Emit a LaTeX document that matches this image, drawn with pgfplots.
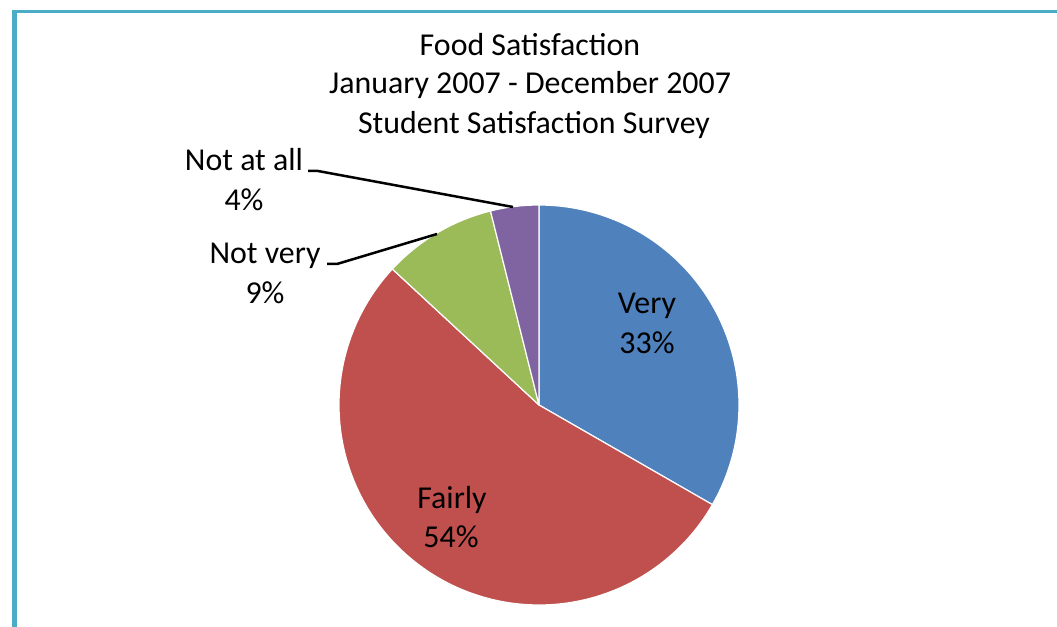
\documentclass[border=0pt]{standalone}
\usepackage{pgfplots}
\usepackage{pgfplotstable}
\usepackage{fontspec}
\setmainfont{Carlito}
\pgfplotsset{compat=1.18}

\definecolor{cVery}{HTML}{4F81BD}
\definecolor{cFairly}{HTML}{C0504D}
\definecolor{cNotvery}{HTML}{9BBB59}
\definecolor{cNotatall}{HTML}{8064A2}
\definecolor{cFrame}{HTML}{4BACC6}

\tikzset{lbl/.style={anchor=base, inner sep=0pt, font=\fontsize{32}{40}\selectfont}}

% share of answers, in percent
\pgfplotstableread{
name     value
Very     33.3
Fairly   53.6
Notvery  9.2
Notatall 3.9
}\piedata

\begin{document}
\begin{tikzpicture}
\useasboundingbox (0,0) rectangle (1057bp,627bp);

% cumulative angles, clockwise from the top
\pgfplotstablegetelem{0}{value}\of\piedata \let\vA\pgfplotsretval
\pgfplotstablegetelem{1}{value}\of\piedata \let\vB\pgfplotsretval
\pgfplotstablegetelem{2}{value}\of\piedata \let\vC\pgfplotsretval
\pgfplotstablegetelem{3}{value}\of\piedata \let\vD\pgfplotsretval
\pgfmathsetmacro\aA{90}
\pgfmathsetmacro\aB{\aA-3.6*\vA}
\pgfmathsetmacro\aC{\aB-3.6*\vB}
\pgfmathsetmacro\aD{\aC-3.6*\vC}
\pgfmathsetmacro\aE{\aD-3.6*\vD}

\def\cx{539}\def\cy{222}\def\r{200}

\begin{axis}[
    at={(0,0)}, anchor=origin,
    x=1bp, y=1bp,
    xmin=0, xmax=1057, ymin=0, ymax=627,
    hide axis, clip=false,
  ]
  % frame
  \addplot[cFrame, line width=3bp] coordinates {(12,615.5) (1057,615.5)};
  \addplot[cFrame, line width=5bp] coordinates {(14.5,617) (14.5,0)};

  % slices
  \addplot[fill=cVery, draw=white, line width=1.2bp, line join=round, domain=\aB:\aA, samples=80, variable=\t]
    ({\cx+\r*cos(\t)},{\cy+\r*sin(\t)}) -- (axis cs:\cx,\cy) -- cycle;
  \addplot[fill=cFairly, draw=white, line width=1.2bp, line join=round, domain=\aC:\aB, samples=120, variable=\t]
    ({\cx+\r*cos(\t)},{\cy+\r*sin(\t)}) -- (axis cs:\cx,\cy) -- cycle;
  \addplot[fill=cNotvery, draw=white, line width=1.2bp, line join=round, domain=\aD:\aC, samples=30, variable=\t]
    ({\cx+\r*cos(\t)},{\cy+\r*sin(\t)}) -- (axis cs:\cx,\cy) -- cycle;
  \addplot[fill=cNotatall, draw=white, line width=1.2bp, line join=round, domain=\aE:\aD, samples=20, variable=\t]
    ({\cx+\r*cos(\t)},{\cy+\r*sin(\t)}) -- (axis cs:\cx,\cy) -- cycle;

  % leader lines
  \addplot[black, line width=2.5bp] coordinates {(308,456) (318,456) (513,420)};
  \addplot[black, line width=2.5bp] coordinates {(327,363) (337,363) (437,393)};

  % title
  \node[lbl] at (axis cs:530,571.5) {Food Satisfaction};
  \node[lbl] at (axis cs:530,533.5) {January 2007 - December 2007};
  \node[lbl] at (axis cs:534,493.5) {Student Satisfaction Survey};

  % slice labels
  \node[lbl] at (axis cs:647,313.5) {Very};
  \node[lbl] at (axis cs:647,273.5) {33\%};
  \node[lbl] at (axis cs:452,118.5) {Fairly};
  \node[lbl] at (axis cs:451,79.5) {54\%};
  \node[lbl] at (axis cs:265,363.5) {Not very};
  \node[lbl] at (axis cs:265,323.5) {9\%};
  \node[lbl] at (axis cs:244,456.5) {Not at all};
  \node[lbl] at (axis cs:244,416.5) {4\%};
\end{axis}
\end{tikzpicture}
\end{document}
